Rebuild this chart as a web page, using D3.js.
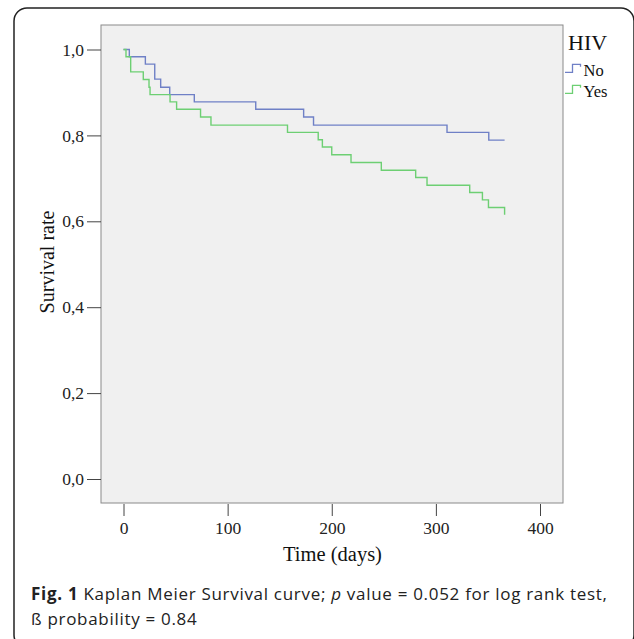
<!DOCTYPE html>
<html>
<head>
<meta charset="utf-8">
<script src="https://cdn.jsdelivr.net/npm/d3@7"></script>
<style>
  body { margin: 0; background: #fff; }
  svg { display: block; }
</style>
</head>
<body>
<div id="chart"></div>
<script>
// Kaplan Meier curves (time in days, survival rate)
const noTimes = [0, 5.6, 21, 30, 35.7, 44.4, 68, 127, 173, 182.5, 310.7, 350.8, 366];
const noSurv  = [1.0, 0.983, 0.966, 0.931, 0.912, 0.895, 0.878, 0.861, 0.843, 0.824, 0.807, 0.789, 0.789];
const yesTimes = [0, 2.4, 6.9, 19, 24.5, 25.5, 44.7, 51, 74, 84, 157.5, 187, 191, 200, 218.5, 247.6, 280.6, 291.5, 332.5, 344.7, 350.5, 366];
const yesSurv  = [1.0, 0.983, 0.948, 0.930, 0.912, 0.895, 0.878, 0.861, 0.843, 0.824, 0.807, 0.790, 0.773, 0.755, 0.737, 0.719, 0.702, 0.684, 0.667, 0.650, 0.632, 0.615];
const groups = ["No", "Yes"];
const xTicks = [0, 100, 200, 300, 400];
const yTicks = [0, 0.2, 0.4, 0.6, 0.8, 1.0];

const width = 634, height = 639;
const plot = {left: 101, right: 563, top: 25, bottom: 503};
const colors = {No: "#6f80c6", Yes: "#6dcf73"};
const serif = "'Liberation Serif', 'Times New Roman', serif";

const svg = d3.select("#chart").append("svg")
  .attr("width", width)
  .attr("height", height);

// outer rounded frame
svg.append("rect")
  .attr("x", 14).attr("y", 8)
  .attr("width", 620).attr("height", 640)
  .attr("rx", 13)
  .attr("fill", "none")
  .attr("stroke", "#222")
  .attr("stroke-width", 1.5);

const x = d3.scaleLinear().domain([0, 400]).range([123.5, 540]);
const y = d3.scaleLinear().domain([0, 1]).range([479, 49.5]);

// plot background
svg.append("rect")
  .attr("x", plot.left).attr("y", plot.top)
  .attr("width", plot.right - plot.left)
  .attr("height", plot.bottom - plot.top)
  .attr("fill", "#f0f0f0")
  .attr("stroke", "#8a8a8a")
  .attr("stroke-width", 1);

// Axes
const yAxis = svg.append("g")
  .attr("transform", `translate(${plot.left},0)`)
  .call(d3.axisLeft(y).tickValues(yTicks).tickSize(14).tickPadding(3)
    .tickFormat(d => d3.format(".1f")(d).replace(".", ",")));
const xAxis = svg.append("g")
  .attr("transform", `translate(0,${plot.bottom + 1})`)
  .call(d3.axisBottom(x).tickValues(xTicks).tickSize(12).tickPadding(6));

[yAxis, xAxis].forEach(g => {
  g.select(".domain").remove();
  g.selectAll("line").attr("stroke", "#444");
  g.selectAll("text")
    .attr("font-family", serif)
    .attr("font-size", "17.5px")
    .attr("fill", "#222");
});

// Curves
const line = d3.line()
  .x(d => x(d[0]))
  .y(d => y(d[1]))
  .curve(d3.curveStepAfter);

const series = {
  No: noTimes.map((t, i) => [t, noSurv[i]]),
  Yes: yesTimes.map((t, i) => [t, yesSurv[i]])
};

groups.forEach(g => {
  svg.append("path")
    .datum(series[g])
    .attr("fill", "none")
    .attr("stroke", colors[g])
    .attr("stroke-width", 1.4)
    .attr("d", line);
});

// Axis labels
svg.append("text")
  .attr("x", 332.5)
  .attr("y", 561)
  .attr("text-anchor", "middle")
  .attr("font-family", serif)
  .attr("font-size", "20.5px")
  .attr("fill", "#111")
  .text("Time (days)");

svg.append("text")
  .attr("transform", "rotate(-90)")
  .attr("x", -262)
  .attr("y", 54)
  .attr("text-anchor", "middle")
  .attr("font-family", serif)
  .attr("font-size", "20px")
  .attr("fill", "#111")
  .text("Survival rate");

// Legend
const legend = svg.append("g").attr("transform", "translate(565,0)");
legend.append("text")
  .attr("x", 3)
  .attr("y", 50)
  .attr("font-family", serif)
  .attr("font-size", "22px")
  .attr("fill", "#111")
  .text("HIV");

groups.forEach((g, i) => {
  const base = 72.3 + i * 21;
  legend.append("path")
    .attr("d", `M0,${base} H7.5 V${base - 8} H15.5 V${base - 5.5}`)
    .attr("fill", "none")
    .attr("stroke", colors[g])
    .attr("stroke-width", 1.3);
  legend.append("text")
    .attr("x", 18.5)
    .attr("y", base + 3.2)
    .attr("font-family", serif)
    .attr("font-size", "16.5px")
    .attr("fill", "#111")
    .text(g);
});

// Caption
const cap = svg.append("text")
  .attr("x", 31)
  .attr("y", 599.5)
  .attr("font-family", "'Open Sans', sans-serif")
  .attr("font-size", "17px")
  .attr("letter-spacing", "0.7px")
  .attr("fill", "#222");
cap.append("tspan").attr("font-weight", "bold").text("Fig. 1");
cap.append("tspan").text(" Kaplan Meier Survival curve; ");
cap.append("tspan").attr("font-style", "italic").text("p");
cap.append("tspan").text(" value = 0.052 for log rank test,");

svg.append("text")
  .attr("x", 31)
  .attr("y", 625)
  .attr("font-family", "'Open Sans', sans-serif")
  .attr("font-size", "17px")
  .attr("letter-spacing", "0.7px")
  .attr("fill", "#222")
  .text("ß probability = 0.84");
</script>
</body>
</html>
